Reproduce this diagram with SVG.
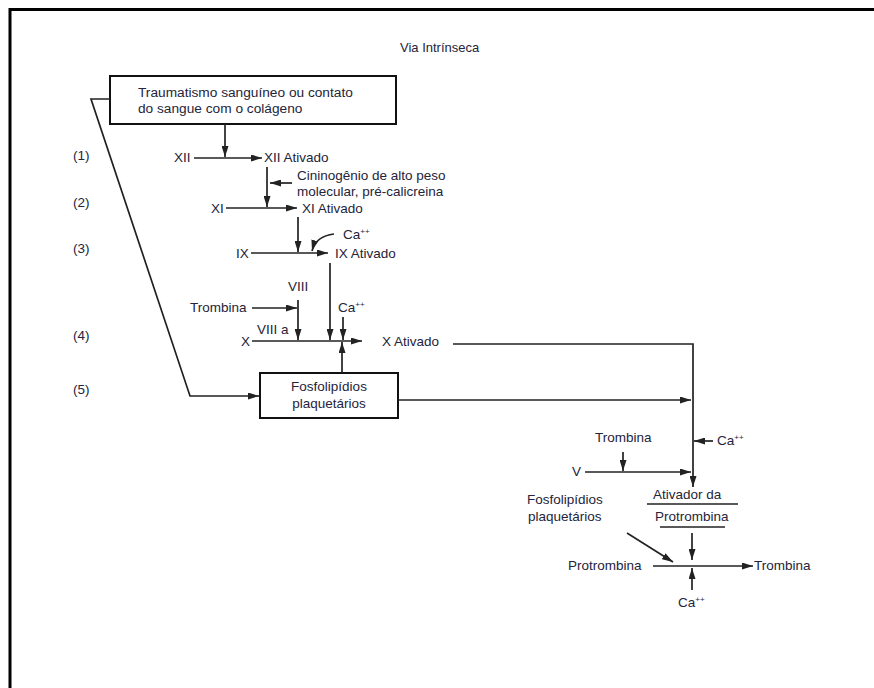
<svg xmlns="http://www.w3.org/2000/svg" width="874" height="688" viewBox="0 0 874 688">
<defs>
<marker id="ah" markerWidth="11" markerHeight="7" refX="11" refY="3.5" orient="auto" markerUnits="userSpaceOnUse">
<path d="M0,0 L11,3.5 L0,7 z" fill="#222"/>
</marker>
<style>
text{font-family:"Liberation Sans",Arial,sans-serif;font-size:13.5px;fill:#24243a}
.ln{stroke:#222;stroke-width:1.7;fill:none}
.ar{stroke:#222;stroke-width:1.7;fill:none;marker-end:url(#ah)}
.bx{stroke:#111;stroke-width:2;fill:#fff}
.sup{font-size:8px}
</style>
</defs>
<rect x="0" y="0" width="874" height="688" fill="#fff"/>
<path d="M10,688 V9.5 H874" fill="none" stroke="#000" stroke-width="3"/>
<text x="400" y="52" style="font-size:13px">Via Intrínseca</text>

<g id="steps">
<text x="73" y="160">(1)</text>
<text x="73" y="207">(2)</text>
<text x="73" y="253">(3)</text>
<text x="73" y="340">(4)</text>
<text x="73" y="394">(5)</text>
</g>

<g id="trauma">
<rect class="bx" x="110" y="76" width="286" height="48"/>
<text x="138" y="97" style="font-size:13.7px">Traumatismo sanguíneo ou contato</text>
<text x="138" y="113" style="font-size:13.7px">do sangue com o colágeno</text>
</g>

<g id="xii"><text x="174" y="162">XII</text></g>
<g id="xiia"><text x="264" y="162">XII Ativado</text></g>
<g id="cinino">
<text x="297" y="180">Cininogênio de alto peso</text>
<text x="297" y="196">molecular, pré-calicreina</text>
</g>
<g id="xi"><text x="211" y="213">XI</text></g>
<g id="xia"><text x="302" y="213">XI Ativado</text></g>
<g id="ix"><text x="236" y="258">IX</text></g>
<g id="ixa"><text x="335" y="258">IX Ativado</text></g>
<g id="ca1"><text x="343" y="239">Ca<tspan class="sup" dy="-5">++</tspan></text></g>
<g id="viii"><text x="288" y="291">VIII</text></g>
<g id="tromb1"><text x="190" y="312">Trombina</text></g>
<g id="ca2"><text x="338" y="312">Ca<tspan class="sup" dy="-5">++</tspan></text></g>
<g id="viiia"><text x="257" y="334">VIII a</text></g>
<g id="x"><text x="241" y="346">X</text></g>
<g id="xa"><text x="382" y="346">X Ativado</text></g>

<g id="fosfo1">
<rect class="bx" x="260" y="373" width="138" height="45"/>
<text x="329" y="391" text-anchor="middle">Fosfolipídios</text>
<text x="329" y="408" text-anchor="middle">plaquetários</text>
</g>

<g id="tromb2"><text x="595" y="442">Trombina</text></g>
<g id="ca3"><text x="717" y="445">Ca<tspan class="sup" dy="-5">++</tspan></text></g>
<g id="v"><text x="572" y="476">V</text></g>
<g id="ativador">
<text x="653" y="499">Ativador da</text>
<line class="ln" x1="647" y1="504" x2="738" y2="504"/>
<text x="655" y="521">Protrombina</text>
<line class="ln" x1="660" y1="527" x2="725" y2="527"/>
</g>
<g id="fosfo2">
<text x="527" y="504">Fosfolipídios</text>
<text x="528" y="521">plaquetários</text>
</g>
<g id="protromb"><text x="568" y="570">Protrombina</text></g>
<g id="tromb3"><text x="754" y="570">Trombina</text></g>
<g id="ca4"><text x="678" y="607">Ca<tspan class="sup" dy="-5">++</tspan></text></g>

<g id="connectors">
<path class="ar" d="M110,99 H91 L190,396 H259"/>
<path class="ar" d="M225,124 V157"/>
<path class="ar" d="M194,158 H262"/>
<path class="ar" d="M267,167 V207"/>
<path class="ar" d="M292,183 H270"/>
<path class="ar" d="M226,208 H297"/>
<path class="ar" d="M298,217 V252"/>
<path class="ar" d="M251,253 H328"/>
<path class="ar" d="M334,234 Q316,236 312,251"/>
<path class="ar" d="M330,263 V340"/>
<path class="ar" d="M298,300 V340"/>
<path class="ar" d="M252,308 H297"/>
<path class="ar" d="M343,317 V340"/>
<path class="ar" d="M252,341 H362"/>
<path class="ar" d="M342,373 V342"/>
<path class="ar" d="M398,400 H691"/>
<path class="ar" d="M453,344 H693 V487"/>
<path class="ar" d="M713,441 H694"/>
<path class="ar" d="M623,452 V471"/>
<path class="ar" d="M585,472 H691"/>
<path class="ar" d="M692,533 V560"/>
<path class="ar" d="M627,533 L673,562"/>
<path class="ar" d="M653,566 H753"/>
<path class="ar" d="M692,590 V568"/>
</g>
</svg>
